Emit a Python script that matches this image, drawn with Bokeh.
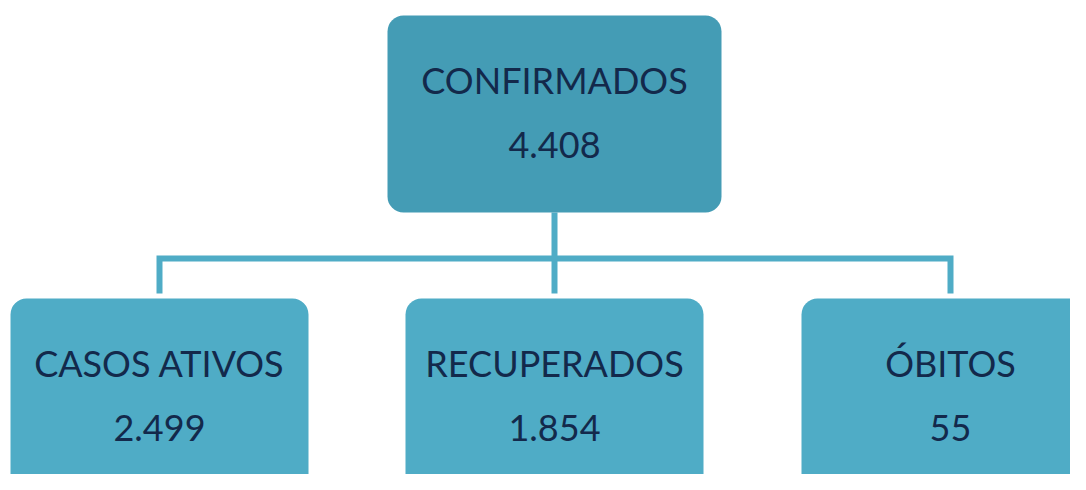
from bokeh.plotting import figure
from bokeh.models import Range1d, ColumnDataSource
from bokeh.core.properties import value
from bokeh.embed import file_html
from bokeh.resources import INLINE

# ---- data ----
categories = ["CONFIRMADOS", "CASOS ATIVOS", "RECUPERADOS", "ÓBITOS"]
counts = [4408, 2499, 1854, 55]
levels = [0, 1, 1, 1]      # 0 = top node, 1 = child nodes
slots = [1, 0, 1, 2]       # horizontal slot of each node

def fmt(n):
    return f"{n:,}".replace(",", ".")

labels = [fmt(c) for c in counts]

# ---- layout (pixel coordinates of the reference) ----
W, H = 1070, 474
X0, Y0 = 0, 0
slot_cx = [159, 554, 950]
top_box = dict(left=387, right=721, top=15, bottom=212)
child_w = 298
child_top, child_bottom = 298, 520
bus_y = 258

COL_TOP = "#449CB5"
COL_CHILD = "#4FACC6"
COL_LINE = "#4FACC6"
COL_TEXT = "#13294B"
FONT = "Lato"

p = figure(width=W, height=H, output_backend="svg", toolbar_location=None,
           x_range=Range1d(X0, X0 + W), y_range=Range1d(Y0 + H, Y0),
           min_border=0, outline_line_color=None)
p.axis.visible = False
p.grid.visible = False
p.background_fill_color = "white"
p.border_fill_color = "white"

left, right, top, bottom, fills, cx, ly, vy = [], [], [], [], [], [], [], []
for lev, s in zip(levels, slots):
    if lev == 0:
        left.append(top_box["left"]); right.append(top_box["right"])
        top.append(top_box["top"]); bottom.append(top_box["bottom"])
        fills.append(COL_TOP)
        cx.append((top_box["left"] + top_box["right"]) / 2)
        ly.append(79); vy.append(144)
    else:
        c = slot_cx[s]
        left.append(c - child_w / 2); right.append(c + child_w / 2)
        top.append(child_top); bottom.append(child_bottom)
        fills.append(COL_CHILD)
        cx.append(c)
        ly.append(362); vy.append(427)

src = ColumnDataSource(dict(left=left, right=right, top=top, bottom=bottom,
                            fill=fills, cx=cx, ly=ly, vy=vy,
                            cat=categories, val=labels))

# connectors
parent_x = (top_box["left"] + top_box["right"]) / 2
xs = [[slot_cx[0], slot_cx[0], slot_cx[2], slot_cx[2]], [parent_x, parent_x]]
ys = [[child_top - 5, bus_y, bus_y, child_top - 5], [top_box["bottom"], child_top - 5]]
p.multi_line(xs=xs, ys=ys, line_color=COL_LINE, line_width=6, line_join="miter")

p.quad(left="left", right="right", top="top", bottom="bottom", source=src,
       fill_color="fill", line_color=None, border_radius=16)

p.text(x="cx", y="ly", text="cat", source=src, text_align="center",
       text_baseline="alphabetic", text_font=value(FONT), text_font_size="36px",
       text_color=COL_TEXT)
p.text(x="cx", y="vy", text="val", source=src, text_align="center",
       text_baseline="alphabetic", text_font=value(FONT), text_font_size="36px",
       text_color=COL_TEXT)

open("out.html", "w").write(file_html(p, INLINE))
